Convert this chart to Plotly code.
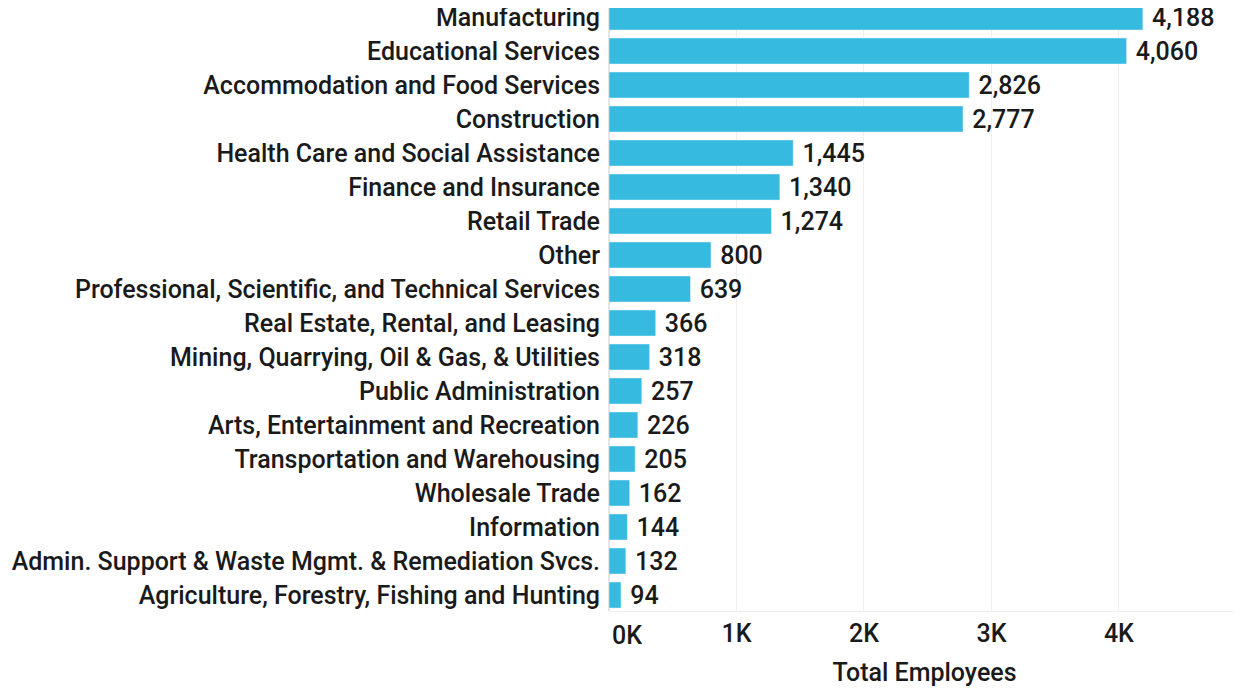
import plotly.graph_objects as go

# industries, top to bottom as shown
industries = [
    "Manufacturing",
    "Educational Services",
    "Accommodation and Food Services",
    "Construction",
    "Health Care and Social Assistance",
    "Finance and Insurance",
    "Retail Trade",
    "Other",
    "Professional, Scientific, and Technical Services",
    "Real Estate, Rental, and Leasing",
    "Mining, Quarrying, Oil & Gas, & Utilities",
    "Public Administration",
    "Arts, Entertainment and Recreation",
    "Transportation and Warehousing",
    "Wholesale Trade",
    "Information",
    "Admin. Support & Waste Mgmt. & Remediation Svcs.",
    "Agriculture, Forestry, Fishing and Hunting",
]
employees = [4188, 4060, 2826, 2777, 1445, 1340, 1274, 800, 639, 366, 318, 257, 226, 205, 162, 144, 132, 94]

tick_vals = [0, 1000, 2000, 3000, 4000]
tick_text = ["", "1K", "2K", "3K", "4K"]  # 0K is drawn left-aligned below

font_name = "Roboto"
txt_color = "#1a1a1a"
fsize = 25

fig = go.Figure(go.Bar(
    x=employees,
    y=industries,
    orientation="h",
    marker=dict(color="#36BAE0"),
    text=[" " + f"{v:,}" for v in employees],
    textposition="outside",
    constraintext="none",
    textfont=dict(size=fsize, color=txt_color, family=font_name, weight=500),
    cliponaxis=False,
))

# first tick label sits flush with the axis start, like the source
fig.add_annotation(
    x=0, xref="x", y=0, yref="paper",
    text="0K", showarrow=False,
    xanchor="left", yanchor="middle", yshift=-24, xshift=1,
    font=dict(size=fsize, color=txt_color, family=font_name, weight=500),
)

# page has an 8px body margin, so the figure is sized to fit the window
fig.update_layout(
    width=1233,
    height=681,
    margin=dict(l=601, r=1, t=0, b=78),
    plot_bgcolor="white",
    paper_bgcolor="white",
    font=dict(family=font_name, size=fsize, color=txt_color, weight=500),
    bargap=0.235,
    showlegend=False,
    xaxis=dict(
        range=[0, 4950],
        tickvals=tick_vals,
        ticktext=tick_text,
        showgrid=True,
        gridcolor="#eeeeee",
        gridwidth=1,
        zeroline=True,
        zerolinecolor="#e6e6e6",
        showline=True,
        linecolor="#eeeeee",
        ticks="",
        tickfont=dict(size=fsize, color=txt_color, weight=500),
        title=dict(text="Total Employees", font=dict(size=fsize, color=txt_color, weight=500), standoff=16),
    ),
    yaxis=dict(
        range=[17.47, -0.265],
        automargin=False,
        ticks="outside",
        ticklen=3,
        tickcolor="white",
        tickfont=dict(size=fsize, color=txt_color, weight=500),
        showgrid=False,
    ),
)

fig.write_html("out.html")
